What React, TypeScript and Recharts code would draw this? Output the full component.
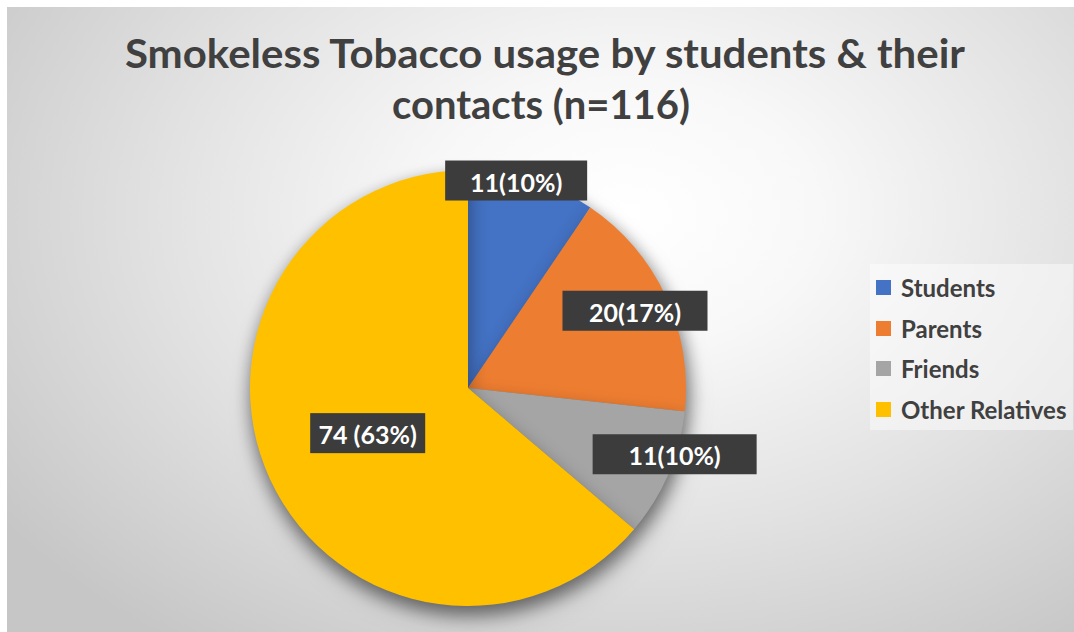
import React from 'react';
import { PieChart, Pie, Cell, Legend } from 'recharts';

// ---- data ----
const categories = ['Students', 'Parents', 'Friends', 'Other Relatives'];
const counts = [11, 20, 11, 74];
const labelTexts = ['11(10%)', '20(17%)', '11(10%)', '74 (63%)'];
const titleLines = ['Smokeless Tobacco usage by students & their', 'contacts (n=116)'];

// ---- style ----
const colors = ['#4472C4', '#ED7D31', '#A5A5A5', '#FFC000'];
const labelRadius = [213, 184, 217, 110];
const labelAngleShift = [-4, 0, -5.5, 0.6];
const labelBoxWidth = [142, 145, 164, 115];

const data = categories.map((name, i) => ({ name, value: counts[i], label: labelTexts[i] }));

const FONT = 'Lato, "Open Sans", sans-serif';
const TEXT_COLOR = '#404040';

const renderLabel = (props: any) => {
  const { cx, cy, midAngle, index } = props;
  const clockFromTop = 90 - midAngle + labelAngleShift[index];
  const rad = (clockFromTop * Math.PI) / 180;
  const r = labelRadius[index];
  const x = cx + r * Math.sin(rad);
  const y = cy - r * Math.cos(rad);
  const w = labelBoxWidth[index];
  const h = 40;
  return (
    <g key={`lbl-${index}`}>
      <rect x={x - w / 2} y={y - h / 2} width={w} height={h} fill="#3c3c3c" />
      <text
        x={x}
        y={y + 1}
        textAnchor="middle"
        dominantBaseline="central"
        fill="#ffffff"
        fontFamily={FONT}
        fontWeight={700}
        fontSize={25}
      >
        {labelTexts[index]}
      </text>
    </g>
  );
};

const renderLegend = (props: any) => {
  const payload = [...(props.payload || [])].sort(
    (a: any, b: any) => categories.indexOf(a.value) - categories.indexOf(b.value)
  );
  return (
    <div
      style={{
        background: 'rgba(255,255,255,0.45)',
        width: 203,
        height: 166,
        boxSizing: 'border-box',
        paddingTop: 3,
        paddingLeft: 6,
      }}
    >
      {payload.map((entry: any, i: number) => (
        <div
          key={`leg-${i}`}
          style={{ display: 'flex', alignItems: 'center', height: 40.7 }}
        >
          <span
            style={{
              display: 'inline-block',
              width: 15,
              height: 15,
              background: entry.color,
              marginRight: 10,
            }}
          />
          <span
            style={{
              fontFamily: FONT,
              fontWeight: 700,
              fontSize: 24,
              color: TEXT_COLOR,
              whiteSpace: 'nowrap',
            }}
          >
            {entry.value}
          </span>
        </div>
      ))}
    </div>
  );
};

export default function App() {
  return (
    <div style={{ position: 'absolute', left: 0, top: 0, width: 1074, height: 632, background: '#ffffff', overflow: 'hidden' }}>
      <style>{`.pie-shadow { filter: drop-shadow(2px 8px 9px rgba(0,0,0,0.33)); }`}</style>
      <div
        style={{
          position: 'absolute',
          left: 7,
          top: 7,
          width: 1067,
          height: 625,
          background:
            'radial-gradient(ellipse 72% 85% at 58% 33%, #ffffff 0%, #f8f8f8 25%, #e2e2e2 60%, #c6c6c6 100%)',
        }}
      />
      <div style={{ position: 'absolute', left: 0, top: 0 }}>
        <PieChart width={1074} height={632} margin={{ top: 0, right: 0, bottom: 0, left: 0 }}>
          <Pie
            data={data}
            dataKey="value"
            nameKey="name"
            cx={468}
            cy={388}
            outerRadius={218}
            startAngle={90}
            endAngle={-270}
            stroke="none"
            strokeWidth={0}
            label={renderLabel}
            labelLine={false}
            isAnimationActive={false}
            className="pie-shadow"
          >
            {data.map((d, i) => (
              <Cell key={`cell-${i}`} fill={colors[i]} stroke="none" />
            ))}
          </Pie>
          <Legend
            layout="vertical"
            verticalAlign="top"
            align="right"
            wrapperStyle={{ left: 870, top: 264, width: 204 }}
            content={renderLegend}
          />
        </PieChart>
      </div>
      <svg width={1074} height={632} style={{ position: 'absolute', left: 0, top: 0, pointerEvents: 'none' }}>
        <text x={545} y={68} textAnchor="middle" fontFamily={FONT} fontWeight={700} fontSize={40} fill={TEXT_COLOR} textLength={840} lengthAdjust="spacingAndGlyphs">
          {titleLines[0]}
        </text>
        <text x={541} y={119} textAnchor="middle" fontFamily={FONT} fontWeight={700} fontSize={40} fill={TEXT_COLOR} textLength={298} lengthAdjust="spacingAndGlyphs">
          {titleLines[1]}
        </text>
      </svg>
    </div>
  );
}
